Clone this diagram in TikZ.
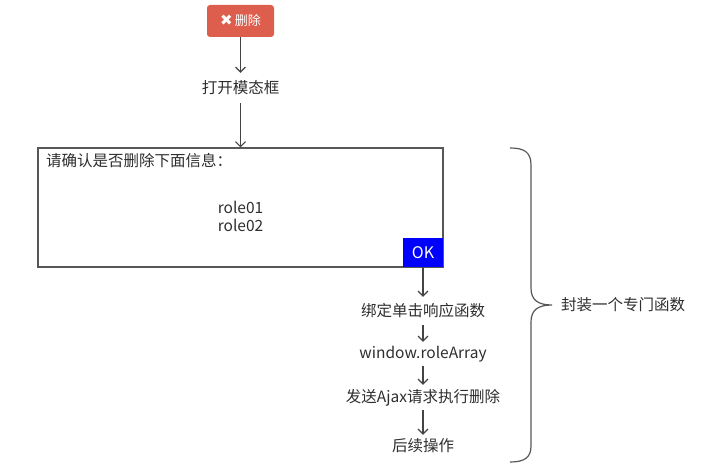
\documentclass[tikz,border=0pt]{standalone}
\usepackage{fontspec}
\setmainfont{Noto Sans CJK SC}
\newfontfamily\symfont{DejaVu Sans}
\usetikzlibrary{arrows.meta}
\definecolor{txt}{HTML}{2E2E2E}
\definecolor{ln}{HTML}{444444}
\definecolor{danger}{HTML}{DE5E4E}
\tikzset{
  lbl/.style={text=txt,font=\fontsize{15.5}{18}\selectfont,inner sep=0pt,minimum height=26pt},
  arr/.style={draw=ln,line width=1.1pt,-{Straight Barb[length=5pt,width=10pt]}},
}
\begin{document}
\begin{tikzpicture}[x=1pt,y=-1pt]
\useasboundingbox (0,0) rectangle (705,465);
% delete button
\node[fill=danger,rounded corners=3pt,minimum width=67pt,minimum height=32pt,inner sep=0pt,text=white,font=\fontsize{13}{15}\selectfont] (del) at (240.5,21) {{\symfont\bfseries\fontsize{15}{15}\selectfont ✖}\,删除};
\node[lbl,minimum height=30pt] (open) at (240.5,88) {打开模态框};
% dialog
\node[draw=ln!90,line width=1.3pt,minimum width=405pt,minimum height=119pt,inner sep=0pt] (dlg) at (240.5,207.5) {};
\node[lbl,anchor=west,minimum height=0pt] (title) at (46,161) {请确认是否删除下面信息：};
\node[lbl,align=center,minimum height=0pt,font=\fontsize{15.5}{18}\selectfont] (roles) at (240.5,216) {role01\\role02};
\node[fill=blue,minimum width=40pt,minimum height=29pt,inner sep=0pt,text=white,font=\fontsize{16}{18}\selectfont] (ok) at (423,252.5) {OK};
% chain
\node[lbl,minimum height=28pt] (bind) at (423,311) {绑定单击响应函数};
\node[lbl,minimum height=24pt] (win) at (423,354) {window.roleArray};
\node[lbl,minimum height=25pt] (ajax) at (423,397.5) {发送Ajax请求执行删除};
\node[lbl,minimum height=22pt] (after) at (423,446) {后续操作};
\draw[arr] (del.south) -- (open.north);
\draw[arr] (open.south) -- (dlg.north);
\draw[arr] (ok.south) -- (bind.north);
\draw[arr] (bind.south) -- (win.north);
\draw[arr] (win.south) -- (ajax.north);
\draw[arr] (ajax.south) -- (after.north);
% brace
\draw[ln!90,line width=1.2pt] (510,148) .. controls (524,148) and (531,152) .. (531,165)
  -- (531,288) .. controls (531,300) and (538,305) .. (552,305)
  .. controls (538,305) and (531,310) .. (531,322)
  -- (531,446) .. controls (531,458) and (524,462) .. (510,462);
\node[lbl,anchor=west,minimum height=0pt] (enc) at (561,305) {封装一个专门函数};
\end{tikzpicture}
\end{document}
